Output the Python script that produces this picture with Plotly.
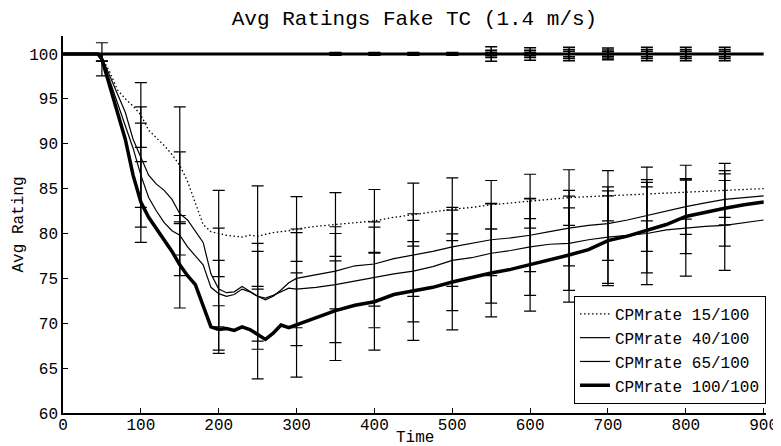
import plotly.graph_objects as go

# time samples (s)
time = [0, 45, 50, 60, 70, 80, 90, 100, 110, 120, 130, 140, 150, 160, 170, 180, 190,
        200, 210, 220, 230, 240, 250, 260, 270, 280, 290, 300, 325, 350, 375, 400,
        425, 450, 475, 500, 525, 550, 575, 600, 625, 650, 675, 700, 725, 750, 775,
        800, 825, 850, 875, 900]

rate_15 = [100, 100, 99.6, 98, 96, 95, 94.2, 93.2, 91.5, 90.7, 89.8, 88.8, 87.6, 85.8,
           83.5, 81, 80.2, 80, 79.8, 79.7, 79.6, 79.8, 79.7, 79.9, 80.1, 80.2, 80.3,
           80.5, 80.8, 81.0, 81.2, 81.4, 81.8, 82.1, 82.4, 82.7, 82.9, 83.2, 83.4, 83.6,
           83.8, 84.0, 84.1, 84.2, 84.3, 84.4, 84.5, 84.6, 84.7, 84.8, 84.9, 85.0]
rate_40 = [100, 100, 99.6, 97.5, 95.5, 93.5, 90.5, 88.5, 86.5, 85.5, 84.8, 83.8, 82.2,
           81.5, 80.2, 79.0, 75.5, 73.8, 73.4, 73.5, 74.1, 73.5, 73.0, 72.6, 73.0, 73.7,
           74.5, 75.0, 75.4, 75.8, 76.4, 76.6, 77.2, 77.6, 78.0, 78.5, 78.9, 79.3, 79.5,
           79.8, 80.2, 80.6, 80.9, 81.1, 81.5, 82.0, 82.5, 83.0, 83.4, 83.8, 84.0, 84.2]
rate_65 = [100, 100, 99.6, 97, 94.5, 92, 89.5, 86.5, 84, 82.5, 81.2, 80.3, 79.8, 78.5,
           77.5, 76.5, 74.0, 73.3, 73.0, 73.2, 73.8, 73.5, 73.0, 72.8, 73.1, 73.5, 73.9,
           73.8, 74.0, 74.3, 74.7, 75.1, 75.5, 75.8, 76.3, 77.0, 77.3, 77.8, 78.1, 78.5,
           78.8, 78.9, 79.3, 79.6, 79.8, 80.0, 80.4, 80.6, 80.8, 80.9, 81.2, 81.5]
rate_100 = [100, 100, 99.4, 96.5, 93.5, 90.5, 86.5, 83.5, 81.8, 80.5, 79.3, 78, 76.5,
            75.3, 74.3, 72, 69.6, 69.3, 69.4, 69.2, 69.6, 69.3, 68.8, 68.2, 68.9, 69.8,
            69.5, 69.8, 70.6, 71.4, 72.0, 72.4, 73.2, 73.6, 74.0, 74.6, 75.1, 75.6, 76.0,
            76.5, 77.0, 77.6, 78.2, 79.2, 79.7, 80.4, 81.0, 81.9, 82.4, 82.8, 83.2, 83.5]

# error bar times and half widths
eb_time = [50, 100, 150, 200, 250, 300, 350, 400, 450, 500, 550, 600, 650, 700, 750, 800, 850]
err_15 = [0.4, 3.6, 6.5, 4.8, 5.6, 3.6, 3.55, 3.5, 3.5, 3.5, 2.7, 3.0, 3.1, 2.8, 3.0, 3.0, 3.0]
err_40 = [0.4, 5.6, 6.9, 6.8, 5.0, 5.5, 4.2, 4.7, 4.6, 4.4, 4.0, 4.05, 4.2, 4.1, 4.0, 3.1, 2.85]
err_65 = [0.4, 5.8, 2.2, 3.7, 5.9, 6.3, 6.45, 5.6, 5.65, 5.6, 5.55, 5.4, 5.25, 5.15, 5.7, 5.35, 5.0]
err_100 = [1.85, 4.5, 4.8, 2.65, 5.0, 5.8, 5.55, 5.4, 5.5, 5.35, 4.9, 5.15, 5.25, 5.0, 4.8, 4.15, 4.2]

# the other condition that stays at 100
top_level = 100
top_eb_time = [350, 400, 450, 500, 550, 600, 650, 700, 750, 800, 850]
top_err_a = [0.15, 0.15, 0.15, 0.15, 0.8, 0.7, 0.75, 0.65, 0.75, 0.75, 0.75]
top_err_b = [0.08, 0.08, 0.08, 0.08, 0.4, 0.4, 0.5, 0.45, 0.5, 0.5, 0.5]
top_err_c = [0.04, 0.04, 0.04, 0.04, 0.2, 0.2, 0.3, 0.25, 0.3, 0.3, 0.3]

labels = ["CPMrate 15/100", "CPMrate 40/100", "CPMrate 65/100", "CPMrate 100/100"]

FONT = "Liberation Mono, Courier New, monospace"

fig = go.Figure()

series = [
    (rate_15, err_15, dict(color="black", width=1.3, dash="1.5px,2.5px")),
    (rate_40, err_40, dict(color="black", width=1.2)),
    (rate_65, err_65, dict(color="black", width=1.2)),
    (rate_100, err_100, dict(color="black", width=3.5)),
]

# the flat line at 100
fig.add_trace(go.Scatter(
    x=[time[0], time[-1]], y=[top_level, top_level], mode="lines",
    line=dict(color="black", width=3), showlegend=False, hoverinfo="skip"))
for err in (top_err_a, top_err_b, top_err_c):
    fig.add_trace(go.Scatter(
        x=top_eb_time, y=[top_level] * len(top_eb_time), mode="markers",
        marker=dict(size=1, color="rgba(0,0,0,0)"),
        error_y=dict(type="data", array=err, color="black", thickness=1.5, width=6),
        showlegend=False, hoverinfo="skip"))

for (vals, err, line), name in zip(series, labels):
    lookup = dict(zip(time, vals))
    fig.add_trace(go.Scatter(
        x=eb_time, y=[lookup[t] for t in eb_time], mode="markers",
        marker=dict(size=1, color="rgba(0,0,0,0)"),
        error_y=dict(type="data", array=err, color="black", thickness=1.2, width=6),
        showlegend=False, hoverinfo="skip"))
    fig.add_trace(go.Scatter(x=time, y=vals, mode="lines", name=name, line=line))

axis_style = dict(
    showline=True, linecolor="black", linewidth=1.5, mirror=False,
    ticks="inside", ticklen=5, tickcolor="black", showgrid=False, zeroline=False,
    automargin=False,
    tickfont=dict(family=FONT, size=16, color="black"),
)

# the page body adds an 8px offset, so margins are shifted to compensate
fig.update_layout(
    width=781, height=446,
    margin=dict(l=55, r=23, t=28, b=41),
    paper_bgcolor="white", plot_bgcolor="white",
    title=dict(text="Avg Ratings Fake TC (1.4 m/s)", x=0.5, xref="paper",
               y=1 - 10 / 446, yanchor="middle",
               font=dict(family=FONT, size=21, color="black")),
    xaxis=dict(range=[0, 903], tickvals=list(range(0, 901, 100)),
               ticklabelstandoff=-4, **axis_style),
    yaxis=dict(range=[60, 102], tickvals=list(range(60, 101, 5)), **axis_style),
    legend=dict(x=1, xanchor="right", y=0.024, yanchor="bottom",
                bgcolor="white", bordercolor="black", borderwidth=1,
                font=dict(family=FONT, size=16, color="black"),
                tracegroupgap=0, itemwidth=30),
    annotations=[
        dict(text="Time", x=0.5, y=-0.066, xref="paper", yref="paper",
             xanchor="center", yanchor="middle", showarrow=False,
             font=dict(family=FONT, size=16, color="black")),
        dict(text="Avg Rating", x=-0.0626, y=0.5, xref="paper", yref="paper",
             xanchor="center", yanchor="middle", textangle=-90, showarrow=False,
             font=dict(family=FONT, size=16, color="black")),
    ],
)

fig.write_html("out.html")
